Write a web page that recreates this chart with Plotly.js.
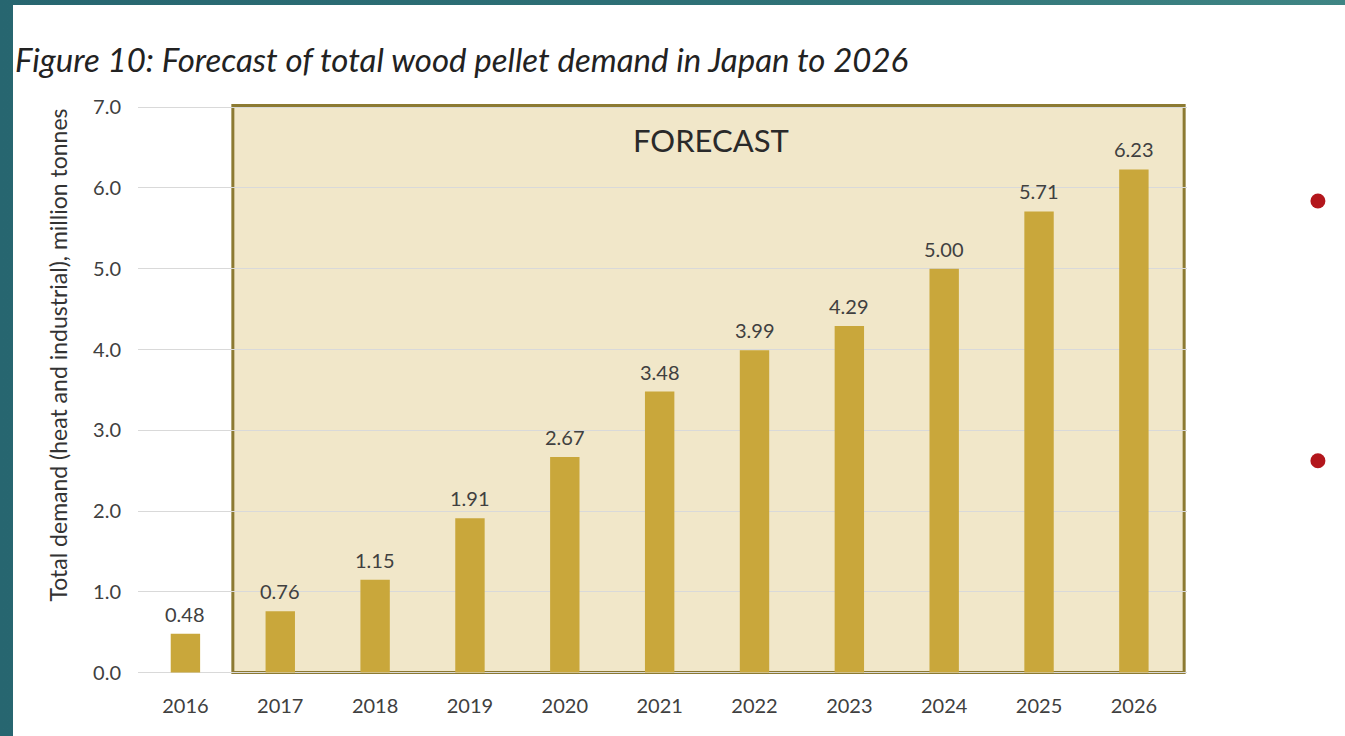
<!DOCTYPE html>
<html>
<head>
<meta charset="utf-8">
<script src="https://cdn.plot.ly/plotly-3.0.1.min.js"></script>
<style>
  html, body { margin: 0; padding: 0; width: 1345px; height: 736px; overflow: hidden; }
  body { background: linear-gradient(90deg, #276670 0%, #2f7277 60%, #3f8584 100%); position: relative; }
  #chart { position: absolute; left: 13px; top: 5px; width: 1332px; height: 731px; background: #ffffff; }
</style>
</head>
<body>
<div id="chart"></div>
<script>
const years = ['2016','2017','2018','2019','2020','2021','2022','2023','2024','2025','2026'];
const demand = [0.48, 0.76, 1.15, 1.91, 2.67, 3.48, 3.99, 4.29, 5.00, 5.71, 6.23];
const demandLabels = ['0.48','0.76','1.15','1.91','2.67','3.48','3.99','4.29','5.00','5.71','6.23'];
const yTicks = [0, 1, 2, 3, 4, 5, 6, 7];
const yTickLabels = ['0.0','1.0','2.0','3.0','4.0','5.0','6.0','7.0'];

const FONT = 'Lato, "Open Sans", sans-serif';
const TXT = '#404040';

const trace = {
  type: 'bar',
  x: years,
  y: demand,
  width: 0.31,
  marker: { color: '#c9a73b' },
  hoverinfo: 'x+y'
};

const labelAnnotations = years.map((yr, i) => ({
  x: i, y: demand[i], xref: 'x', yref: 'y',
  text: demandLabels[i], showarrow: false,
  xanchor: 'center', yanchor: 'bottom', yshift: 6,
  font: { family: FONT, size: 20, color: TXT }
}));

const layout = {
  width: 1332, height: 731,
  margin: { l: 124.5, r: 158, t: 98.8, b: 60.6 },
  paper_bgcolor: '#ffffff',
  plot_bgcolor: 'rgba(0,0,0,0)',
  showlegend: false,
  title: {
    text: '<i>Figure 10: Forecast of total wood pellet demand in Japan to 2026</i>',
    xref: 'container', yref: 'container',
    x: 2 / 1332, xanchor: 'left',
    y: 1 - 55 / 731, yanchor: 'middle',
    font: { family: FONT, size: 33, color: '#222222' }
  },
  xaxis: {
    type: 'category',
    range: [-0.5, 10.56],
    showgrid: false, zeroline: false, showline: false,
    ticks: '', ticklabelstandoff: 17,
    tickfont: { family: FONT, size: 20, color: TXT },
    fixedrange: true
  },
  yaxis: {
    range: [-0.03, 7.04],
    tickvals: yTicks, ticktext: yTickLabels,
    showgrid: true, gridcolor: '#d9d9d9', gridwidth: 1,
    zeroline: false, showline: false,
    ticks: '', ticklabelstandoff: 16,
    tickfont: { family: FONT, size: 20, color: TXT },
    fixedrange: true
  },
  shapes: [
    {
      type: 'rect', xref: 'x', yref: 'y', layer: 'below',
      x0: 0.5, x1: 10.53, y0: 0, y1: 7.02,
      fillcolor: 'rgba(232,216,168,0.62)',
      line: { color: '#8c7a32', width: 3 }
    },
    {
      type: 'circle', xref: 'paper', yref: 'paper',
      xsizemode: 'pixel', ysizemode: 'pixel',
      xanchor: 1.1248, yanchor: 0.830,
      x0: -7.5, x1: 7.5, y0: -7.5, y1: 7.5,
      fillcolor: '#b3161c', line: { width: 0 }
    },
    {
      type: 'circle', xref: 'paper', yref: 'paper',
      xsizemode: 'pixel', ysizemode: 'pixel',
      xanchor: 1.1248, yanchor: 0.3751,
      x0: -7.5, x1: 7.5, y0: -7.5, y1: 7.5,
      fillcolor: '#b3161c', line: { width: 0 }
    }
  ],
  annotations: labelAnnotations.concat([
    {
      x: 5.54, y: 6.59, xref: 'x', yref: 'y',
      text: 'FORECAST', showarrow: false,
      xanchor: 'center', yanchor: 'middle',
      font: { family: FONT, size: 31, color: '#2a2a2a' }
    },
    {
      x: -0.0767, y: 0.5605, xref: 'paper', yref: 'paper',
      text: 'Total demand (heat and industrial), million tonnes',
      textangle: -90, showarrow: false,
      xanchor: 'center', yanchor: 'middle',
      font: { family: FONT, size: 23, color: '#333333' }
    }
  ])
};

Plotly.newPlot('chart', [trace], layout, { displayModeBar: false, staticPlot: true });
</script>
</body>
</html>
